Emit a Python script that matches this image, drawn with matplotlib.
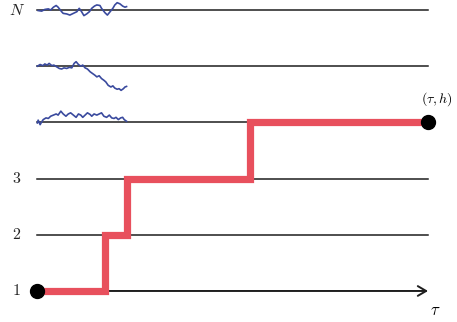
import matplotlib
matplotlib.use("Agg")
import matplotlib.pyplot as plt

plt.rcParams["mathtext.fontset"] = "cm"

# horizon and levels
T = 10.0
levels = [1, 2, 3, 4, 5, 6]
level_labels = {1: r"$1$", 2: r"$2$", 3: r"$3$", 6: r"$N$"}

# red path: jump times and the level held after each jump
jump_times = [0.0, 1.73, 2.30, 5.45, T]
jump_levels = [1, 2, 3, 4, 4]

# sample paths drawn on the upper levels (time, offset from level)
trace_n_t = [0.03, 0.12, 0.20, 0.29, 0.35, 0.42, 0.49, 0.54, 0.63, 0.67, 0.76, 0.84,
             0.93, 1.02, 1.08, 1.14, 1.20, 1.27, 1.34, 1.40, 1.47, 1.53, 1.61, 1.65,
             1.74, 1.80, 1.87, 1.94, 1.99, 2.05, 2.12, 2.19, 2.25, 2.29]
trace_n_y = [-0.01, -0.02, 0.01, 0.02, 0.00, 0.05, 0.08, 0.05, -0.03, -0.06, -0.07, -0.09,
             -0.06, -0.03, 0.03, -0.03, -0.10, -0.07, -0.03, 0.03, 0.07, 0.09, 0.08, 0.03,
             -0.05, -0.09, -0.03, 0.03, 0.09, 0.13, 0.11, 0.07, 0.05, 0.06]

trace_5_t = [0.01, 0.08, 0.15, 0.20, 0.26, 0.31, 0.38, 0.43, 0.50, 0.57, 0.63, 0.69,
             0.76, 0.83, 0.89, 0.95, 1.00, 1.06, 1.12, 1.17, 1.23, 1.29, 1.36, 1.42,
             1.48, 1.53, 1.59, 1.65, 1.71, 1.76, 1.82, 1.89, 1.94, 1.99, 2.05, 2.10,
             2.15, 2.21, 2.25, 2.29]
trace_5_y = [0.00, 0.03, 0.01, 0.04, 0.02, 0.05, 0.01, 0.02, -0.01, -0.04, -0.05, -0.03,
             -0.04, -0.02, -0.03, 0.05, 0.08, 0.03, 0.00, 0.02, -0.03, -0.05, -0.10, -0.13,
             -0.16, -0.19, -0.17, -0.22, -0.25, -0.28, -0.34, -0.37, -0.35, -0.39, -0.41, -0.40,
             -0.43, -0.40, -0.37, -0.36]

trace_4_t = [0.01, 0.03, 0.08, 0.12, 0.16, 0.23, 0.29, 0.35, 0.42, 0.49, 0.54, 0.61,
             0.67, 0.74, 0.80, 0.86, 0.93, 1.00, 1.06, 1.12, 1.17, 1.23, 1.29, 1.36,
             1.40, 1.46, 1.53, 1.59, 1.65, 1.71, 1.78, 1.85, 1.91, 1.97, 2.02, 2.08,
             2.14, 2.19, 2.23, 2.29]
trace_4_y = [-0.01, 0.04, -0.04, 0.01, 0.05, 0.08, 0.07, 0.11, 0.13, 0.15, 0.13, 0.20,
             0.15, 0.11, 0.15, 0.17, 0.13, 0.09, 0.15, 0.13, 0.09, 0.13, 0.17, 0.14,
             0.11, 0.15, 0.13, 0.15, 0.17, 0.11, 0.09, 0.13, 0.08, 0.07, 0.09, 0.05,
             0.08, 0.09, 0.05, 0.02]

traces = [(6, trace_n_t, trace_n_y), (5, trace_5_t, trace_5_y), (4, trace_4_t, trace_4_y)]

fig = plt.figure(figsize=(4.57, 3.22), dpi=100)
ax = fig.add_axes([0, 0, 1, 1])
ax.set_xlim(-0.946, 10.74)
ax.set_ylim(0.448, 6.178)
ax.axis("off")

line_col = "#1e1e1e"
for lv in levels[1:]:
    ax.plot([0, T], [lv, lv], color=line_col, lw=1.1, zorder=1)

# time axis with open arrow head
ax.annotate("", xy=(T, 1), xytext=(0, 1),
            arrowprops=dict(arrowstyle="->,head_length=0.6,head_width=0.35",
                            color=line_col, lw=1.4, shrinkA=0, shrinkB=0),
            zorder=1)

for lv, lab in level_labels.items():
    ax.text(-0.52, lv, lab, ha="center", va="center", fontsize=11.5, color="#222222")

for lv, ts, ys in traces:
    ax.plot(ts, [lv + y for y in ys], color="#3a4a9e", lw=1.2, zorder=2)

ax.step(jump_times, jump_levels, where="post", color="#e8505d", lw=5.2,
        solid_joinstyle="miter", solid_capstyle="butt", zorder=3)

ax.plot([0, T], [jump_levels[0], jump_levels[-1]], "o", color="black",
        markersize=10, zorder=4)

ax.text(T + 0.23, 4.41, r"$(\tau,h)$", ha="center", va="center", fontsize=10)
ax.text(T + 0.18, 0.66, r"$\tau$", ha="center", va="center", fontsize=12)

fig.savefig("out.png", dpi=100)
